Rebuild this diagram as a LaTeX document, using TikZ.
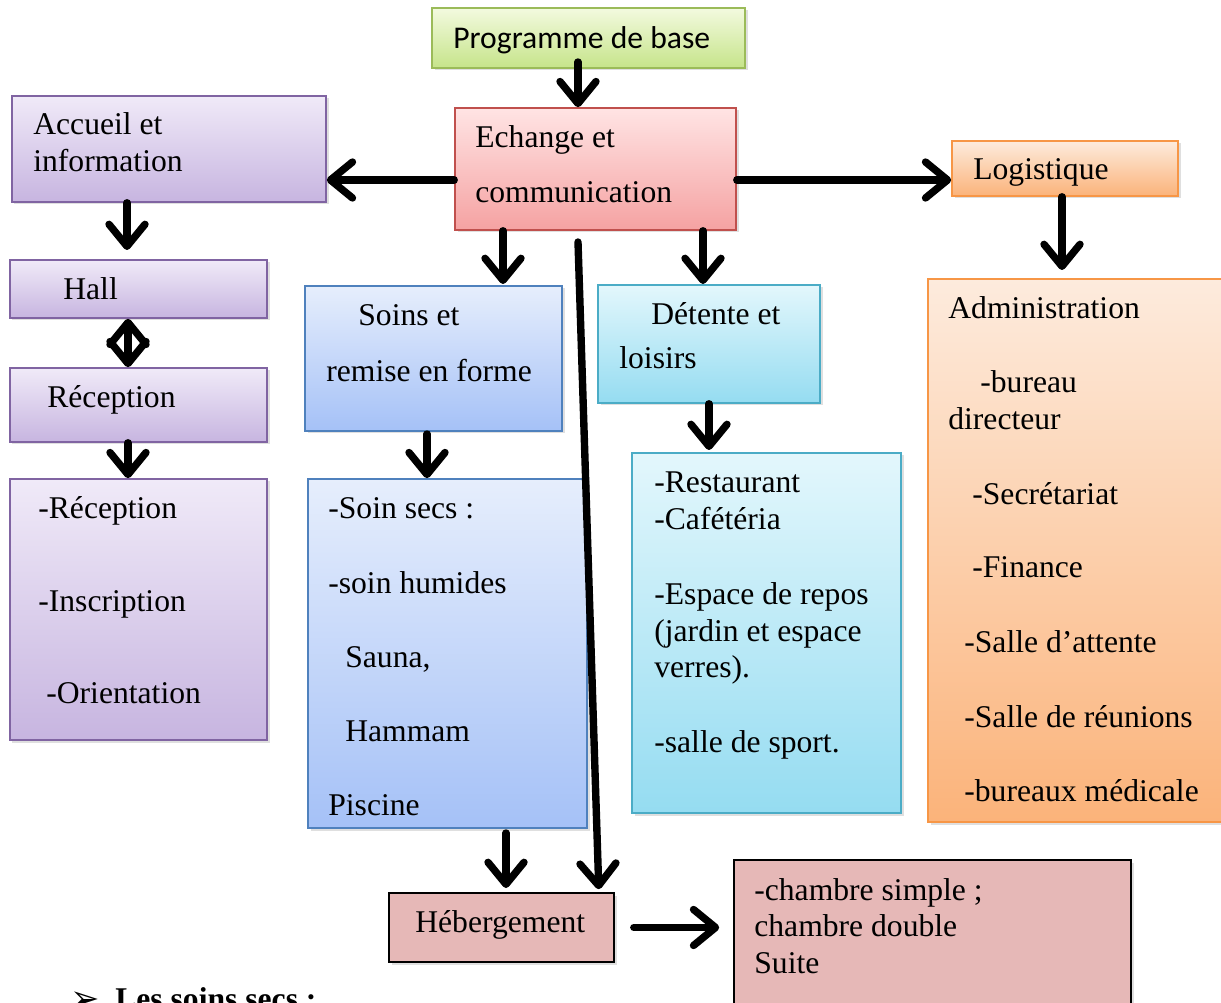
\documentclass[tikz,border=0pt]{standalone}
\usepackage{fontspec}
\setmainfont{Liberation Serif}
\newfontfamily\calibrifont{Carlito}
\newfontfamily\symbfont{DejaVu Sans}
\usetikzlibrary{arrows.meta,shadows,fit}
\definecolor{GreenTop}{HTML}{F3FADF}
\definecolor{GreenBot}{HTML}{C6E48A}
\definecolor{GreenLine}{HTML}{9BBB59}
\definecolor{RedTop}{HTML}{FFE4E4}
\definecolor{RedBot}{HTML}{F5A2A2}
\definecolor{RedLine}{HTML}{C0504D}
\definecolor{LilaTop}{HTML}{F0EAF8}
\definecolor{LilaBot}{HTML}{C7B5E0}
\definecolor{LilaLine}{HTML}{8064A2}
\definecolor{BlueTop}{HTML}{E6EEFC}
\definecolor{BlueBot}{HTML}{A5C1F7}
\definecolor{BlueLine}{HTML}{4F81BD}
\definecolor{CyanTop}{HTML}{E3F7FC}
\definecolor{CyanBot}{HTML}{95DCF1}
\definecolor{CyanLine}{HTML}{4BACC6}
\definecolor{OrangeTop}{HTML}{FDEBDD}
\definecolor{OrangeBot}{HTML}{FBB37A}
\definecolor{OrangeLine}{HTML}{F79646}
\definecolor{RoseFill}{HTML}{E6B8B7}
\tikzset{chev/.tip={Straight Barb[length=0.44cm, width=0.72cm, round]}}

\begin{document}
\begin{tikzpicture}[x=0.02cm, y=-0.02cm,
    box/.style={draw, line width=0.9pt, inner sep=0pt,
      drop shadow={shadow xshift=0.05cm, shadow yshift=-0.05cm, opacity=0.25}},
    shadebox/.style n args={3}{box, draw=#3, top color=#1, bottom color=#2},
    txt/.style={anchor=base west, inner sep=0pt, font=\fontsize{18}{21}\selectfont},
    flow/.style={line width=4.2pt, line cap=round, -chev},
    flowboth/.style={line width=4.2pt, line cap=round, chev-chev}]
    \useasboundingbox (0,0) rectangle (1221,1003);
    \clip (0,0) rectangle (1221,1003);
    % boxes
    \node[shadebox={GreenTop}{GreenBot}{GreenLine}, fit={(432,8) (745,68)}] (progbase) {};
    \node[shadebox={RedTop}{RedBot}{RedLine}, fit={(455,108) (736,230)}] (echange) {};
    \node[shadebox={LilaTop}{LilaBot}{LilaLine}, fit={(12,96) (326,202)}] (accueil) {};
    \node[shadebox={OrangeTop}{OrangeBot}{OrangeLine}, fit={(952,141) (1178,196)}] (logist) {};
    \node[shadebox={LilaTop}{LilaBot}{LilaLine}, fit={(10,260) (267,318)}] (hall) {};
    \node[shadebox={LilaTop}{LilaBot}{LilaLine}, fit={(10,368) (267,442)}] (recep) {};
    \node[shadebox={LilaTop}{LilaBot}{LilaLine}, fit={(10,479) (267,740)}] (recepliste) {};
    \node[shadebox={BlueTop}{BlueBot}{BlueLine}, fit={(305,286) (562,431)}] (soins) {};
    \node[shadebox={BlueTop}{BlueBot}{BlueLine}, fit={(308,479) (587,828)}] (soinsliste) {};
    \node[shadebox={CyanTop}{CyanBot}{CyanLine}, fit={(598,285) (820,403)}] (detente) {};
    \node[shadebox={CyanTop}{CyanBot}{CyanLine}, fit={(632,453) (901,813)}] (detenteliste) {};
    \node[shadebox={OrangeTop}{OrangeBot}{OrangeLine}, fit={(928,279) (1228,822)}] (admin) {};
    \node[box, fill=RoseFill, fit={(389,893) (614,962)}] (heberg) {};
    \node[box, fill=RoseFill, fit={(734,860) (1131,1020)}] (chambres) {};
    % texts
    \node[txt, font=\calibrifont\fontsize{18}{21}\selectfont] (t-prog) at (453,49) {Programme de base};
    \node[txt] (t-ech1) at (475,148) {Echange et};
    \node[txt] (t-ech2) at (475,203) {communication};
    \node[txt] (t-acc1) at (33,135) {Accueil et};
    \node[txt] (t-acc2) at (33,172) {information};
    \node[txt] (t-log) at (973,180) {Logistique};
    \node[txt] (t-hall) at (63,300) {Hall};
    \node[txt] (t-rec) at (47,408) {Réception};
    \node[txt] (t-soi1) at (358,326) {Soins et};
    \node[txt] (t-soi2) at (326,382) {remise en forme};
    \node[txt] (t-det1) at (651,325) {Détente et};
    \node[txt] (t-det2) at (619,369) {loisirs};
    \node[txt] (t-heb) at (415,932) {Hébergement};
    % lists
    \foreach \x/\y/\t [count=\i] in {38/519/-Réception, 38/611/-Inscription, 46/703/-Orientation}
      \node[txt] (rl-\i) at (\x,\y) {\t};
    \foreach \x/\y/\t [count=\i] in {328/519/-Soin secs :, 328/593/-soin humides, 345/667/{Sauna,},
        345/741/Hammam, 328/815/Piscine}
      \node[txt] (sl-\i) at (\x,\y) {\t};
    \foreach \y/\t [count=\i] in {493/-Restaurant, 529/-Cafétéria, 604/-Espace de repos,
        641/(jardin et espace, 677/verres)., 752/-salle de sport.}
      \node[txt] (dl-\i) at (654,\y) {\t};
    \foreach \x/\y/\t [count=\i] in {948/319/Administration, 980/393/-bureau, 948/430/directeur,
        972/504/-Secrétariat, 972/578/-Finance, 964/652/-Salle d’attente,
        964/727/-Salle de réunions, 964/801/-bureaux médicale}
      \node[txt] (al-\i) at (\x,\y) {\t};
    \foreach \y/\t [count=\i] in {900/-chambre simple ;, 936/chambre double, 973/Suite}
      \node[txt] (cl-\i) at (754,\y) {\t};
    % heading below
    \node[txt, font=\symbfont\fontsize{20}{22}\selectfont] (puce) at (70,1010) {➢};
    \node[txt, font=\bfseries\fontsize{18}{21}\selectfont] (soinssecs) at (115,1009) {Les soins secs :};
    % arrows
    \draw[flow] (578,62) -- (578,0 |- echange.north);
    \draw[flow] ([yshift=-0.22cm]echange.west) -- ([yshift=-0.22cm]echange.west -| accueil.east);
    \draw[flow] ([yshift=-0.22cm]echange.east) -- ([yshift=-0.22cm]echange.east -| logist.west);
    \draw[flow] (503,0 |- echange.south) -- (503,284);
    \draw[flow] (703,0 |- echange.south) -- (703,284);
    \coordinate (longdep) at (578,242);
    \draw[flow] (longdep) -- ([xshift=-0.32cm, yshift=0.06cm]heberg.north east);
    \draw[flow] (127,0 |- accueil.south) -- (127,250);
    \draw[flowboth] (128,0 |- hall.south) -- (128,0 |- recep.north);
    \draw[flow] (128,0 |- recep.south) -- (128,0 |- recepliste.north);
    \draw[flow] (1062,0 |- logist.south) -- (1062,270);
    \draw[flow] (427,434) -- (427,0 |- soinsliste.north);
    \draw[flow] (709,0 |- detente.south) -- (709,450);
    \draw[flow] (506,833) -- (506,888);
    \draw[flow, shorten <=0.38cm, shorten >=0.28cm] (heberg.east) -- (heberg.east -| chambres.west);
  \end{tikzpicture}
\end{document}
